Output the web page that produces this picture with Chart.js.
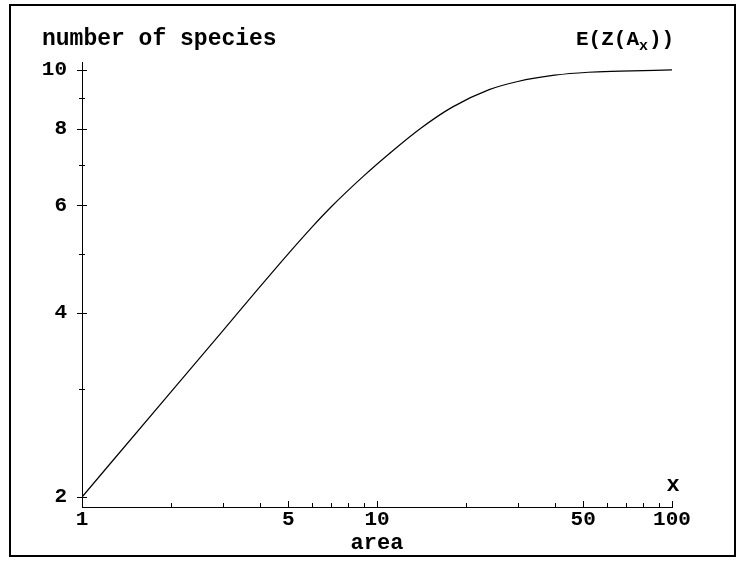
<!DOCTYPE html>
<html>
<head>
<meta charset="utf-8">
<script src="https://cdn.jsdelivr.net/npm/chart.js@4"></script>
<style>
  html, body { margin: 0; padding: 0; background: #fff; }
  #wrap { width: 737px; height: 561px; position: relative; }
</style>
</head>
<body>
<div id="wrap"><canvas id="speciesChart" width="737" height="561"></canvas></div>
<script>
// values
const areaValues = [1, 2, 3, 4, 5, 6, 7, 9, 11, 14, 18, 24, 30, 40, 52, 67, 100];
const speciesValues = [2, 2.97, 3.74, 4.41, 5.0, 5.52, 5.97, 6.70, 7.29, 8.01, 8.69, 9.28, 9.57, 9.80, 9.91, 9.95, 10.0];

const xTicks = [1, 2, 3, 4, 5, 6, 7, 8, 9, 10, 20, 30, 40, 50, 60, 70, 80, 90, 100];
const xLabels = [1, 5, 10, 50, 100];
const yTicks = [2, 3, 4, 5, 6, 7, 8, 9, 10];
const yLabels = [2, 4, 6, 8, 10];

const monoFont = '"Liberation Mono", "Courier New", monospace';

// frame, tick marks and free text
const decor = {
  id: 'decor',
  afterDraw(chart) {
    const c = chart.ctx;
    const xs = chart.scales.x, ys = chart.scales.y;
    c.save();
    c.strokeStyle = '#000';
    c.lineWidth = 2;
    c.strokeRect(10, 5, 725, 551);

    c.lineWidth = 1;
    // y ticks cross the axis
    yTicks.forEach(v => {
      const py = Math.round(ys.getPixelForValue(v)) + 0.5;
      const half = yLabels.includes(v) ? 5 : 3;
      c.beginPath();
      c.moveTo(xs.left - half, py);
      c.lineTo(xs.left + half, py);
      c.stroke();
    });
    // x ticks mostly upward
    xTicks.forEach(v => {
      const px = Math.round(xs.getPixelForValue(v)) + 0.5;
      const up = xLabels.includes(v) ? 6 : 4;
      c.beginPath();
      c.moveTo(px, ys.bottom - up);
      c.lineTo(px, ys.bottom + 1);
      c.stroke();
    });

    c.fillStyle = '#000';
    c.font = 'bold 23px ' + monoFont;
    c.textBaseline = 'alphabetic';
    c.textAlign = 'left';
    c.fillText('number of species', 42, 45);

    c.font = 'bold 21px ' + monoFont;
    let x0 = 576;
    c.fillText('E(Z(A', x0, 45);
    x0 += c.measureText('E(Z(A').width;
    c.font = 'bold 15px ' + monoFont;
    c.fillText('x', x0, 50);
    x0 += c.measureText('x').width + 1;
    c.font = 'bold 21px ' + monoFont;
    c.fillText('))', x0, 45);

    c.font = 'bold 22px ' + monoFont;
    c.textAlign = 'center';
    c.fillText('x', 673, 491);
    c.fillText('area', (xs.left + xs.right) / 2, 549);
    c.restore();
  }
};

const ctx = document.getElementById('speciesChart').getContext('2d');
new Chart(ctx, {
  type: 'scatter',
  data: {
    datasets: [{
      label: 'E(Z(A_x))',
      data: areaValues.map((a, i) => ({ x: a, y: speciesValues[i] })),
      showLine: true,
      borderColor: '#000',
      borderWidth: 1.2,
      pointRadius: 0,
      cubicInterpolationMode: 'monotone',
      fill: false
    }]
  },
  options: {
    responsive: false,
    animation: false,
    layout: { padding: { top: 62, right: 65, left: 0, bottom: 0 } },
    plugins: {
      legend: { display: false },
      tooltip: { enabled: false }
    },
    scales: {
      x: {
        type: 'logarithmic',
        min: 1,
        max: 100,
        afterFit: s => { s.height = 54; },
        afterBuildTicks: s => { s.ticks = xTicks.map(v => ({ value: v })); },
        grid: { display: false, drawTicks: false },
        border: { display: true, color: '#000', width: 1 },
        ticks: {
          autoSkip: false,
          maxRotation: 0,
          padding: 0,
          color: '#000',
          font: { family: monoFont, size: 21, weight: 'bold' },
          callback: v => xLabels.includes(v) ? String(v) : ''
        }
      },
      y: {
        type: 'logarithmic',
        min: 1.926,
        max: 10.3,
        afterFit: s => { s.width = 82; },
        afterBuildTicks: s => { s.ticks = yTicks.map(v => ({ value: v })); },
        grid: { display: false, drawTicks: false },
        border: { display: true, color: '#000', width: 1 },
        ticks: {
          autoSkip: false,
          padding: 15,
          color: '#000',
          font: { family: monoFont, size: 21, weight: 'bold' },
          callback: v => yLabels.includes(v) ? String(v) : ''
        }
      }
    }
  },
  plugins: [decor]
});
</script>
</body>
</html>
